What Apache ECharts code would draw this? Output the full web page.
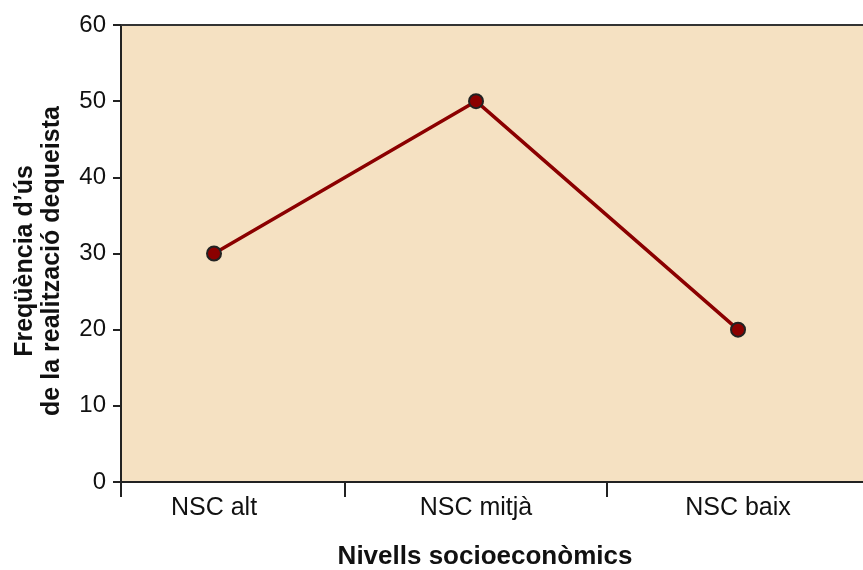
<!DOCTYPE html>
<html><head><meta charset="utf-8">
<script src="https://cdn.jsdelivr.net/npm/echarts@6/dist/echarts.min.js"></script>
<style>html,body{margin:0;padding:0;background:#fff}#c{width:863px;height:570px}</style>
</head><body><div id="c"></div>
<script>
const categories = ['NSC alt', 'NSC mitjà', 'NSC baix'];
const values = [30, 50, 20];
const yTicks = [0, 10, 20, 30, 40, 50, 60];
const yTitle = ['Freqüència d\u2019ús', 'de la realització dequeista'];
const xTitle = 'Nivells socioeconòmics';

const xMin = 0.645, xMax = 3.477;
const chart = echarts.init(document.getElementById('c'));
const font = '"Liberation Sans", Arial, sans-serif';
chart.setOption({
  animation: false,
  textStyle: { fontFamily: font },
  grid: { left: 121, right: 0, top: 25, bottom: 88, show: true, backgroundColor: '#F5E1C2', borderWidth: 0 },
  xAxis: [{
    type: 'value', min: xMin, max: xMax,
    axisLine: { show: true, lineStyle: { color: '#222', width: 2 } },
    axisTick: { show: true, length: 15, lineStyle: { color: '#222', width: 2 }, customValues: [xMin, 1.5, 2.5] },
    axisLabel: { customValues: [1, 2, 3], formatter: v => categories[Math.round(v) - 1], fontSize: 25, color: '#111', margin: 14, fontFamily: font },
    splitLine: { show: false }
  }, {
    type: 'value', min: xMin, max: xMax, position: 'top',
    axisLine: { show: true, lineStyle: { color: '#333', width: 2 } },
    axisTick: { show: false }, axisLabel: { show: false }, splitLine: { show: false }
  }],
  yAxis: {
    type: 'value', min: 0, max: 60, interval: 10,
    axisLine: { show: true, lineStyle: { color: '#222', width: 2 } },
    axisTick: { show: true, length: 8, lineStyle: { color: '#222', width: 2 } },
    axisLabel: { fontSize: 24, color: '#111', margin: 15, fontFamily: font, padding: [3, 0, 0, 0],
      formatter: v => yTicks.includes(v) ? String(v) : '' },
    splitLine: { show: false }
  },
  graphic: [
    { type: 'text', x: 39, y: 261, rotation: Math.PI / 2, style: { text: yTitle[0] + '\n' + yTitle[1], font: 'bold 25px ' + font, fill: '#111', align: 'center', verticalAlign: 'middle', lineHeight: 27 } },
    { type: 'text', x: 485, y: 557, style: { text: xTitle, font: 'bold 26px ' + font, fill: '#111', align: 'center', verticalAlign: 'middle' } }
  ],
  series: [{
    type: 'line',
    data: values.map((v, i) => [i + 1, v]),
    lineStyle: { color: '#8B0000', width: 3.5 },
    symbol: 'circle', symbolSize: 14,
    itemStyle: { color: '#8B0000', borderColor: '#222', borderWidth: 2 }
  }]
});
</script></body></html>
